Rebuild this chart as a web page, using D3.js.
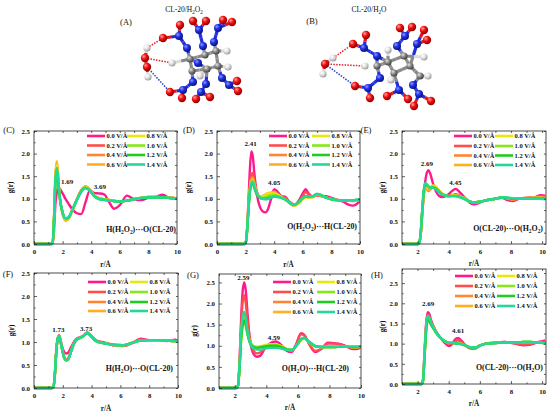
<!DOCTYPE html>
<html>
<head>
<meta charset="utf-8">
<script src="https://cdn.jsdelivr.net/npm/d3@7"></script>
<style>
  body { margin: 0; background: #fff; }
  text { font-family: "Liberation Serif", "Times New Roman", serif; fill: #111; }
</style>
</head>
<body>
<svg id="fig" width="550" height="416"></svg>
<script>
// ---- series labels / colours ----
const fieldLabels = ["0.0 V/Å", "0.2 V/Å", "0.4 V/Å", "0.6 V/Å", "0.8 V/Å", "1.0 V/Å", "1.2 V/Å", "1.4 V/Å"];
const fieldColors = ["#ff1a8c", "#ff4d4d", "#ff8533", "#ffb020", "#e8e810", "#88e61a", "#1fcc1f", "#22d99a"];

// ---- (C) H(H2O2)...O(CL-20) ----
const rC = [0, 1.2, 1.3, 1.4, 1.5, 1.6, 1.7, 1.8, 2.0, 2.2, 2.4, 2.7, 3.0, 3.3, 3.6, 3.9, 4.2, 4.5, 4.9, 5.3, 5.6, 6.0, 6.5, 7.0, 7.5, 8.0, 8.5, 9.0, 9.5, 10];
const gC = [
  [0, 0, 0.02, 0.3, 0.9, 1.15, 1.25, 1.22, 1.12, 1.0, 0.9, 0.76, 0.68, 0.66, 0.92, 1.18, 1.13, 1.12, 1.1, 0.9, 0.78, 0.86, 1.07, 0.99, 0.97, 1.02, 1.04, 1.09, 1.01, 1.0],
  [0, 0, 0.02, 0.55, 1.45, 1.72, 1.4, 1.02, 0.68, 0.55, 0.58, 0.77, 0.99, 1.18, 1.26, 1.19, 1.07, 1.01, 0.99, 0.97, 0.95, 0.94, 0.96, 0.99, 1.02, 1.04, 1.04, 1.03, 1.03, 1.0],
  [0, 0, 0.02, 0.58, 1.5, 1.78, 1.43, 1.04, 0.67, 0.52, 0.55, 0.76, 0.99, 1.19, 1.28, 1.21, 1.08, 1.02, 0.99, 0.97, 0.95, 0.94, 0.96, 0.99, 1.02, 1.04, 1.04, 1.03, 1.03, 1.0],
  [0, 0, 0.02, 0.6, 1.55, 1.83, 1.45, 1.05, 0.67, 0.52, 0.55, 0.75, 0.98, 1.18, 1.27, 1.2, 1.08, 1.02, 0.99, 0.97, 0.95, 0.94, 0.96, 0.99, 1.02, 1.04, 1.04, 1.03, 1.03, 1.0],
  [0, 0, 0.02, 0.57, 1.48, 1.75, 1.42, 1.04, 0.68, 0.54, 0.56, 0.76, 0.98, 1.17, 1.26, 1.2, 1.07, 1.01, 0.99, 0.97, 0.95, 0.94, 0.96, 0.99, 1.02, 1.03, 1.04, 1.03, 1.02, 1.0],
  [0, 0, 0.02, 0.55, 1.42, 1.68, 1.38, 1.03, 0.69, 0.55, 0.57, 0.76, 0.98, 1.17, 1.25, 1.19, 1.07, 1.01, 0.98, 0.96, 0.95, 0.94, 0.96, 0.99, 1.02, 1.03, 1.04, 1.03, 1.02, 1.0],
  [0, 0, 0.02, 0.52, 1.38, 1.62, 1.35, 1.03, 0.7, 0.57, 0.58, 0.77, 0.98, 1.16, 1.24, 1.18, 1.06, 1.0, 0.98, 0.96, 0.95, 0.94, 0.96, 0.99, 1.02, 1.03, 1.03, 1.03, 1.02, 1.0],
  [0, 0, 0.02, 0.55, 1.42, 1.68, 1.38, 1.04, 0.71, 0.57, 0.59, 0.77, 0.97, 1.15, 1.24, 1.18, 1.06, 1.0, 0.98, 0.96, 0.95, 0.94, 0.96, 0.99, 1.02, 1.03, 1.03, 1.03, 1.02, 1.0]
];
const notesC = [["1.69", 2.31, 1.39], ["3.69", 4.6, 1.28]];

// ---- (D) O(H2O2)...H(CL-20) ----
const rD = [0, 1.9, 2.0, 2.1, 2.2, 2.3, 2.4, 2.5, 2.6, 2.8, 3.0, 3.2, 3.4, 3.6, 3.8, 4.0, 4.2, 4.5, 4.8, 5.1, 5.4, 5.7, 6.0, 6.2, 6.4, 6.7, 7.0, 7.3, 7.6, 8.0, 8.4, 8.8, 9.2, 9.5, 9.8, 10];
const gD = [
  [0, 0, 0.02, 0.3, 0.95, 1.65, 2.05, 1.95, 1.6, 1.08, 0.82, 0.72, 0.7, 0.8, 1.02, 1.21, 1.17, 1.06, 1.04, 0.9, 0.85, 0.95, 1.12, 1.21, 1.12, 1.04, 1.08, 1.06, 1.06, 1.02, 0.98, 0.94, 0.87, 0.85, 0.89, 0.96],
  [0, 0, 0.02, 0.3, 0.85, 1.3, 1.52, 1.57, 1.42, 1.15, 1.03, 1.0, 1.0, 1.03, 1.08, 1.13, 1.1, 1.04, 1.0, 0.93, 0.87, 0.92, 1.06, 1.15, 1.1, 1.04, 1.08, 1.06, 1.04, 1.0, 0.97, 0.97, 0.96, 0.95, 0.96, 0.97],
  [0, 0, 0.02, 0.3, 0.82, 1.25, 1.45, 1.48, 1.36, 1.13, 1.05, 1.05, 1.08, 1.1, 1.12, 1.14, 1.1, 1.04, 0.99, 0.92, 0.87, 0.91, 1.02, 1.06, 1.04, 1.04, 1.09, 1.06, 1.03, 1.0, 0.97, 0.97, 0.97, 0.96, 0.96, 0.97],
  [0, 0, 0.02, 0.28, 0.8, 1.22, 1.42, 1.45, 1.34, 1.12, 1.05, 1.06, 1.1, 1.13, 1.14, 1.15, 1.11, 1.04, 0.98, 0.9, 0.85, 0.9, 1.0, 1.04, 1.03, 1.04, 1.1, 1.07, 1.03, 0.99, 0.97, 0.96, 0.96, 0.96, 0.97, 0.98],
  [0, 0, 0.02, 0.28, 0.78, 1.18, 1.36, 1.38, 1.28, 1.1, 1.04, 1.05, 1.08, 1.12, 1.12, 1.12, 1.1, 1.04, 0.98, 0.9, 0.85, 0.9, 1.0, 1.04, 1.03, 1.04, 1.1, 1.07, 1.03, 0.99, 0.97, 0.96, 0.96, 0.97, 0.97, 0.98],
  [0, 0, 0.02, 0.27, 0.76, 1.15, 1.33, 1.36, 1.26, 1.09, 1.03, 1.02, 1.04, 1.06, 1.08, 1.09, 1.07, 1.03, 0.98, 0.9, 0.86, 0.91, 1.01, 1.05, 1.04, 1.05, 1.1, 1.07, 1.03, 0.99, 0.97, 0.96, 0.96, 0.97, 0.97, 0.98],
  [0, 0, 0.02, 0.27, 0.75, 1.14, 1.32, 1.35, 1.25, 1.08, 1.02, 1.0, 1.0, 1.02, 1.03, 1.05, 1.04, 1.02, 0.98, 0.91, 0.87, 0.92, 1.02, 1.06, 1.05, 1.06, 1.11, 1.08, 1.03, 0.99, 0.97, 0.96, 0.97, 0.97, 0.98, 0.98],
  [0, 0, 0.02, 0.28, 0.77, 1.17, 1.35, 1.38, 1.28, 1.1, 1.03, 1.0, 0.99, 1.0, 1.03, 1.06, 1.05, 1.02, 0.98, 0.91, 0.87, 0.92, 1.02, 1.06, 1.05, 1.06, 1.11, 1.08, 1.03, 0.99, 0.97, 0.96, 0.97, 0.97, 0.98, 0.99]
];
const notesD = [["2.41", 2.36, 2.23], ["4.05", 4.0, 1.36]];

// ---- (E) O(CL-20)...O(H2O2) ----
const rE = [1, 2.0, 2.1, 2.2, 2.3, 2.4, 2.5, 2.6, 2.7, 2.8, 3.0, 3.2, 3.4, 3.6, 3.8, 4.0, 4.2, 4.45, 4.7, 5.0, 5.3, 5.6, 5.9, 6.2, 6.6, 7.0, 7.4, 7.8, 8.1, 8.5, 9.0, 9.5, 9.9, 10.2];
const gE = [
  [0, 0, 0.02, 0.2, 0.65, 1.1, 1.4, 1.58, 1.63, 1.57, 1.33, 1.15, 1.06, 1.04, 1.06, 1.1, 1.17, 1.22, 1.15, 1.04, 0.93, 0.88, 0.9, 0.95, 0.98, 1.0, 1.02, 0.97, 0.95, 1.0, 1.02, 1.03, 1.08, 1.07],
  [0, 0, 0.02, 0.22, 0.7, 1.12, 1.3, 1.28, 1.22, 1.22, 1.27, 1.24, 1.16, 1.1, 1.07, 1.06, 1.08, 1.1, 1.07, 1.02, 0.95, 0.91, 0.93, 0.95, 0.98, 1.0, 1.03, 1.0, 0.98, 1.0, 1.02, 1.03, 1.05, 1.04],
  [0, 0, 0.02, 0.22, 0.7, 1.1, 1.25, 1.2, 1.17, 1.2, 1.28, 1.25, 1.17, 1.1, 1.07, 1.06, 1.07, 1.08, 1.06, 1.02, 0.95, 0.92, 0.93, 0.95, 0.98, 1.0, 1.03, 1.01, 0.99, 1.0, 1.02, 1.03, 1.04, 1.03],
  [0, 0, 0.02, 0.22, 0.7, 1.1, 1.27, 1.22, 1.2, 1.23, 1.3, 1.26, 1.18, 1.11, 1.08, 1.06, 1.07, 1.08, 1.06, 1.02, 0.95, 0.92, 0.93, 0.95, 0.98, 1.0, 1.03, 1.01, 0.99, 1.0, 1.02, 1.02, 1.03, 1.02],
  [0, 0, 0.02, 0.23, 0.72, 1.14, 1.3, 1.28, 1.25, 1.25, 1.28, 1.25, 1.17, 1.1, 1.07, 1.06, 1.07, 1.07, 1.05, 1.01, 0.95, 0.92, 0.93, 0.95, 0.98, 1.0, 1.03, 1.02, 1.0, 1.0, 1.01, 1.02, 1.02, 1.01],
  [0, 0, 0.02, 0.23, 0.72, 1.15, 1.3, 1.3, 1.27, 1.25, 1.26, 1.23, 1.16, 1.1, 1.07, 1.06, 1.07, 1.07, 1.05, 1.01, 0.95, 0.92, 0.93, 0.95, 0.98, 1.0, 1.03, 1.02, 1.0, 1.0, 1.01, 1.02, 1.02, 1.01],
  [0, 0, 0.02, 0.24, 0.74, 1.18, 1.32, 1.3, 1.27, 1.25, 1.25, 1.22, 1.15, 1.09, 1.07, 1.06, 1.06, 1.06, 1.04, 1.0, 0.95, 0.92, 0.93, 0.95, 0.98, 1.0, 1.03, 1.02, 1.0, 1.0, 1.01, 1.01, 1.01, 1.0],
  [0, 0, 0.02, 0.25, 0.76, 1.2, 1.35, 1.32, 1.28, 1.25, 1.24, 1.2, 1.14, 1.09, 1.07, 1.06, 1.06, 1.06, 1.04, 1.0, 0.95, 0.92, 0.93, 0.95, 0.98, 1.0, 1.03, 1.03, 1.01, 1.0, 1.0, 1.0, 1.0, 0.99]
];
const notesE = [["2.69", 2.6, 1.78], ["4.45", 4.43, 1.36]];

// ---- (F) H(H2O)...O(CL-20) ----
const rF = [0, 1.25, 1.35, 1.45, 1.55, 1.65, 1.75, 1.85, 2.0, 2.1, 2.25, 2.4, 2.6, 2.8, 3.0, 3.2, 3.4, 3.7, 4.0, 4.3, 4.7, 5.1, 5.6, 6.2, 6.8, 7.4, 8.0, 8.6, 9.2, 9.8, 10];
const gF = [
  [0, 0, 0.02, 0.3, 0.8, 1.08, 1.14, 1.03, 0.85, 0.78, 0.75, 0.78, 0.9, 1.02, 1.08, 1.1, 1.13, 1.2, 1.13, 1.04, 1.0, 0.97, 0.92, 0.91, 0.97, 1.07, 1.04, 1.04, 1.02, 1.05, 1.02],
  [0, 0, 0.02, 0.3, 0.8, 1.08, 1.14, 1.01, 0.8, 0.68, 0.62, 0.66, 0.84, 0.99, 1.07, 1.1, 1.13, 1.21, 1.13, 1.04, 0.99, 0.97, 0.93, 0.92, 0.98, 1.05, 1.04, 1.04, 1.03, 1.03, 1.01],
  [0, 0, 0.02, 0.3, 0.8, 1.08, 1.13, 1.0, 0.78, 0.66, 0.6, 0.64, 0.82, 0.98, 1.06, 1.09, 1.12, 1.2, 1.12, 1.03, 0.98, 0.96, 0.93, 0.93, 0.98, 1.04, 1.04, 1.04, 1.03, 1.02, 1.0],
  [0, 0, 0.02, 0.3, 0.8, 1.07, 1.13, 1.0, 0.78, 0.66, 0.61, 0.65, 0.82, 0.98, 1.06, 1.09, 1.12, 1.2, 1.12, 1.02, 0.98, 0.96, 0.93, 0.93, 0.98, 1.03, 1.04, 1.04, 1.03, 1.02, 1.0],
  [0, 0, 0.02, 0.3, 0.8, 1.08, 1.13, 1.0, 0.77, 0.65, 0.6, 0.64, 0.82, 0.98, 1.06, 1.09, 1.12, 1.19, 1.11, 1.02, 0.98, 0.96, 0.93, 0.93, 0.98, 1.03, 1.04, 1.04, 1.03, 1.02, 1.0],
  [0, 0, 0.02, 0.3, 0.8, 1.08, 1.13, 1.0, 0.77, 0.65, 0.6, 0.64, 0.82, 0.98, 1.06, 1.09, 1.12, 1.19, 1.11, 1.02, 0.98, 0.96, 0.94, 0.93, 0.98, 1.03, 1.04, 1.04, 1.03, 1.02, 1.0],
  [0, 0, 0.02, 0.3, 0.8, 1.08, 1.13, 1.0, 0.77, 0.65, 0.6, 0.64, 0.82, 0.98, 1.06, 1.09, 1.12, 1.19, 1.11, 1.02, 0.98, 0.96, 0.94, 0.93, 0.98, 1.03, 1.04, 1.04, 1.03, 1.02, 1.0],
  [0, 0, 0.02, 0.3, 0.8, 1.08, 1.13, 1.0, 0.78, 0.66, 0.6, 0.64, 0.82, 0.98, 1.06, 1.09, 1.12, 1.2, 1.12, 1.02, 0.98, 0.96, 0.93, 0.93, 0.98, 1.03, 1.04, 1.04, 1.03, 1.02, 1.0]
];
const notesF = [["1.73", 1.69, 1.26], ["3.73", 3.62, 1.3]];

// ---- (G) O(H2O)...H(CL-20) ----
const rG = [1, 2.1, 2.2, 2.3, 2.4, 2.5, 2.6, 2.7, 2.8, 2.9, 3.0, 3.2, 3.4, 3.6, 3.9, 4.2, 4.6, 5.0, 5.3, 5.6, 5.9, 6.2, 6.4, 6.7, 7.1, 7.5, 7.9, 8.3, 8.7, 9.1, 9.5, 9.8, 10];
const gG = [
  [0, 0, 0.05, 0.6, 1.6, 2.3, 2.5, 2.3, 1.8, 1.35, 1.05, 0.8, 0.74, 0.76, 0.93, 1.05, 1.1, 1.0, 0.88, 0.85, 1.05, 1.3, 1.26, 1.05, 0.85, 0.93, 1.07, 1.06, 1.04, 0.98, 0.92, 0.93, 0.98],
  [0, 0, 0.05, 0.55, 1.45, 2.05, 2.2, 2.0, 1.62, 1.3, 1.08, 0.88, 0.82, 0.84, 0.94, 1.0, 1.02, 0.96, 0.9, 0.87, 1.02, 1.27, 1.25, 1.05, 0.88, 0.93, 1.05, 1.05, 1.03, 0.98, 0.95, 0.95, 0.97],
  [0, 0, 0.05, 0.5, 1.25, 1.62, 1.72, 1.6, 1.35, 1.18, 1.07, 0.98, 0.96, 0.97, 1.0, 1.02, 1.02, 0.98, 0.92, 0.9, 1.0, 1.15, 1.18, 1.08, 0.98, 0.97, 0.98, 0.98, 0.98, 0.98, 0.97, 0.97, 0.98],
  [0, 0, 0.05, 0.48, 1.22, 1.58, 1.68, 1.56, 1.33, 1.17, 1.07, 0.99, 0.97, 0.98, 1.0, 1.03, 1.03, 0.98, 0.92, 0.9, 1.0, 1.14, 1.18, 1.09, 0.99, 0.97, 0.97, 0.97, 0.98, 0.98, 0.97, 0.97, 0.98],
  [0, 0, 0.05, 0.46, 1.15, 1.5, 1.6, 1.5, 1.3, 1.15, 1.06, 0.99, 0.98, 0.99, 1.01, 1.03, 1.03, 0.98, 0.92, 0.9, 1.0, 1.14, 1.18, 1.09, 0.99, 0.97, 0.97, 0.97, 0.98, 0.98, 0.97, 0.97, 0.98],
  [0, 0, 0.05, 0.45, 1.12, 1.45, 1.55, 1.46, 1.28, 1.14, 1.05, 0.98, 0.96, 0.97, 0.99, 1.01, 1.01, 0.97, 0.92, 0.9, 1.0, 1.14, 1.18, 1.09, 0.99, 0.97, 0.97, 0.97, 0.98, 0.98, 0.97, 0.97, 0.98],
  [0, 0, 0.05, 0.46, 1.15, 1.5, 1.6, 1.5, 1.3, 1.14, 1.04, 0.97, 0.95, 0.96, 0.98, 1.0, 1.0, 0.96, 0.91, 0.9, 1.0, 1.15, 1.19, 1.1, 0.99, 0.97, 0.97, 0.97, 0.98, 0.98, 0.97, 0.97, 0.98],
  [0, 0, 0.05, 0.5, 1.3, 1.7, 1.8, 1.65, 1.35, 1.15, 1.03, 0.94, 0.91, 0.91, 0.93, 0.95, 0.95, 0.93, 0.9, 0.9, 1.0, 1.15, 1.19, 1.1, 1.0, 0.97, 0.97, 0.97, 0.98, 0.98, 0.98, 0.98, 0.99]
];
const notesG = [["2.59", 2.54, 2.62], ["4.59", 4.48, 1.19]];

// ---- (H) O(CL-20)...O(H2O) ----
const rH = [1, 2.25, 2.35, 2.45, 2.55, 2.65, 2.75, 2.85, 3.0, 3.2, 3.4, 3.6, 3.8, 4.0, 4.2, 4.4, 4.6, 4.8, 5.1, 5.4, 5.7, 6.0, 6.4, 6.8, 7.2, 7.6, 8.0, 8.4, 8.8, 9.2, 9.6, 10.0, 10.2];
const gH = [
  [0, 0, 0.1, 0.8, 1.5, 1.78, 1.74, 1.6, 1.45, 1.3, 1.18, 1.08, 1.0, 0.94, 0.98, 1.1, 1.14, 1.08, 0.95, 0.88, 0.88, 0.95, 1.0, 1.02, 1.03, 1.04, 1.02, 0.99, 0.96, 0.97, 1.02, 1.06, 1.08],
  [0, 0, 0.1, 0.78, 1.45, 1.72, 1.68, 1.56, 1.44, 1.29, 1.18, 1.1, 1.04, 1.0, 1.0, 1.05, 1.08, 1.04, 0.95, 0.9, 0.89, 0.95, 1.0, 1.02, 1.03, 1.04, 1.02, 1.0, 0.98, 0.99, 1.02, 1.04, 1.05],
  [0, 0, 0.09, 0.75, 1.4, 1.68, 1.64, 1.54, 1.42, 1.28, 1.17, 1.1, 1.05, 1.02, 1.02, 1.02, 1.02, 1.0, 0.95, 0.91, 0.9, 0.95, 1.0, 1.01, 1.02, 1.03, 1.03, 1.03, 1.03, 1.03, 1.03, 1.02, 1.01],
  [0, 0, 0.08, 0.7, 1.32, 1.6, 1.57, 1.5, 1.4, 1.27, 1.17, 1.1, 1.05, 1.02, 1.02, 1.01, 1.01, 1.0, 0.95, 0.91, 0.9, 0.95, 1.0, 1.01, 1.02, 1.03, 1.03, 1.03, 1.04, 1.04, 1.03, 1.02, 1.01],
  [0, 0, 0.08, 0.72, 1.36, 1.65, 1.6, 1.52, 1.41, 1.28, 1.17, 1.1, 1.05, 1.02, 1.02, 1.01, 1.0, 0.99, 0.95, 0.91, 0.9, 0.95, 1.0, 1.01, 1.02, 1.03, 1.03, 1.03, 1.04, 1.04, 1.03, 1.02, 1.01],
  [0, 0, 0.08, 0.7, 1.34, 1.62, 1.58, 1.5, 1.4, 1.27, 1.17, 1.1, 1.05, 1.02, 1.02, 1.01, 1.0, 0.99, 0.95, 0.91, 0.9, 0.95, 1.0, 1.01, 1.02, 1.03, 1.03, 1.03, 1.04, 1.04, 1.03, 1.02, 1.0],
  [0, 0, 0.08, 0.68, 1.3, 1.58, 1.56, 1.48, 1.39, 1.27, 1.17, 1.1, 1.05, 1.02, 1.02, 1.01, 1.0, 0.99, 0.95, 0.91, 0.9, 0.95, 1.0, 1.01, 1.02, 1.03, 1.03, 1.03, 1.04, 1.04, 1.03, 1.02, 1.0],
  [0, 0, 0.09, 0.74, 1.4, 1.7, 1.65, 1.54, 1.42, 1.28, 1.17, 1.1, 1.05, 1.02, 1.02, 1.01, 1.0, 0.99, 0.95, 0.91, 0.9, 0.95, 1.0, 1.01, 1.02, 1.03, 1.03, 1.03, 1.04, 1.04, 1.03, 1.02, 1.0]
];
const notesH = [["2.69", 2.68, 2.0], ["4.61", 4.61, 1.32]];

// ---- molecule sketches (A) and (B): [element, x, y] ----
const atomsA = [
  ["O",163,38],["N",179,36],["O",180,25],["N",187,48],["N",199,30],["O",193,21],["O",206,21],["N",203,46],
  ["N",218,28],["O",223,20],["O",232,22],["N",214,42],["C",190,59],["C",205,55],["C",216,51],["C",218,66],
  ["C",192,71],["C",207,69],["N",198,63],["N",193,82],["N",206,84],["N",222,78],["H",172,63],["H",227,51],
  ["H",228,67],["H",200,76],["N",183,90],["O",170,92],["O",182,98],["N",201,92],["O",196,99],["O",210,97],
  ["N",229,85],["O",237,81],["O",238,91],["H",147,48],["O",145,58],["O",147,67],["H",148,77]
];
const bondsA = [[0,1],[1,2],[1,3],[4,5],[4,6],[4,7],[8,9],[8,10],[8,11],[3,12],[7,13],[11,14],[12,13],[13,14],
  [14,15],[15,17],[17,16],[16,12],[12,18],[18,17],[16,19],[17,20],[15,21],[12,22],[14,23],[15,24],[17,25],
  [19,26],[26,27],[26,28],[20,29],[29,30],[29,31],[21,32],[32,33],[32,34],[35,36],[36,37],[37,38]];
const hbondsA = [[35,0,"#e82020"],[36,22,"#e82020"],[37,27,"#2040c8"]];

const atomsB = [
  ["O",325,64],["H",333,58],["H",323,74],["O",353,44],["N",364,48],["O",366,35],["N",377,56],["H",365,66],
  ["C",377,66],["C",388,62],["H",388,50],["C",394,73],["C",410,66],["C",404,56],["C",420,76],["N",380,78],
  ["N",397,46],["N",413,85],["H",391,80],["H",428,76],["O",355,86],["N",368,88],["O",370,98],["N",399,90],
  ["O",387,96],["O",408,99],["N",419,94],["O",431,101],["O",414,106],["N",405,36],["O",400,28],["O",412,27],
  ["N",417,44],["O",424,30],["O",427,40],["H",424,57]
];
const bondsB = [[0,1],[0,2],[3,4],[4,5],[4,6],[6,8],[6,9],[8,9],[9,10],[9,11],[8,15],[11,12],[12,13],[13,9],
  [12,14],[11,18],[14,19],[14,17],[15,21],[21,20],[21,22],[11,23],[23,24],[23,25],[17,26],[26,27],[26,28],
  [13,16],[16,29],[29,30],[29,31],[12,32],[32,33],[32,34],[13,35]];
const hbondsB = [[1,3,"#e82020"],[0,7,"#e82020"],[0,20,"#2040c8"]];

// ---- panel layout ----
const panels = [
  { tag: "(C)", tagXY: [9, 133], r: rC, g: gC, notes: notesC, pair: "H(H_2O_2)\u00b7\u00b7\u00b7O(CL-20)",
    box: [34, 131, 177, 244], xDom: [0, 10], yDom: [0, 2.5], xTicks: [0, 2, 4, 6, 8, 10], xMinor: [1, 3, 5, 7, 9],
    legX: [53, 93], legY: [5, 14.5, 24, 33.5], pairOff: [1, 12.5], gOff: 21, xlabOff: 23 },
  { tag: "(D)", tagXY: [189, 133], r: rD, g: gD, notes: notesD, pair: "O(H_2O_2)\u00b7\u00b7\u00b7H(CL-20)",
    box: [217, 131, 360, 244], xDom: [0, 10], yDom: [0, 2.5], xTicks: [0, 2, 4, 6, 8, 10], xMinor: [1, 3, 5, 7, 9],
    legX: [52, 95], legY: [5, 14.5, 24, 33.5], pairOff: [3, 15], gOff: 26, xlabOff: 23 },
  { tag: "(E)", tagXY: [366, 133], r: rE, g: gE, notes: notesE, pair: "O(CL-20)\u00b7\u00b7\u00b7O(H_2O_2)",
    box: [402, 131, 546, 244], xDom: [1, 10.25], yDom: [0, 2.5], xTicks: [2, 4, 6, 8, 10], xMinor: [1, 3, 5, 7, 9],
    legX: [52, 93], legY: [5, 15, 24.5, 34], pairOff: [3, 13], gOff: 17, xlabOff: 21.5 },
  { tag: "(F)", tagXY: [8, 277], r: rF, g: gF, notes: notesF, pair: "H(H_2O)\u00b7\u00b7\u00b7O(CL-20)",
    box: [34, 273, 178, 388], xDom: [0, 10], yDom: [0, 2.5], xTicks: [0, 2, 4, 6, 8, 10], xMinor: [1, 3, 5, 7, 9],
    legX: [54, 96], legY: [9, 19, 29, 38], pairOff: [5, 17], gOff: 20, xlabOff: 22.5 },
  { tag: "(G)", tagXY: [193, 278], r: rG, g: gG, notes: notesG, pair: "O(H_2O)\u00b7\u00b7\u00b7H(CL-20)",
    box: [219, 274, 361, 388], xDom: [1, 10], yDom: [0, 2.7], xTicks: [2, 4, 6, 8, 10], xMinor: [1, 3, 5, 7, 9],
    legX: [54, 98], legY: [8, 18, 28, 38], pairOff: [12, 17], gOff: 22, xlabOff: 21.5 },
  { tag: "(H)", tagXY: [377, 278], r: rH, g: gH, notes: notesH, pair: "O(CL-20)\u00b7\u00b7\u00b7O(H_2O)",
    box: [402, 269, 546, 384], xDom: [1, 10.25], yDom: [0, 2.85], xTicks: [2, 4, 6, 8, 10], xMinor: [1, 3, 5, 7, 9],
    legX: [53, 95], legY: [7, 17, 27, 37], pairOff: [3, 14], gOff: 17, xlabOff: 21.5 }
];

const svg = d3.select("#fig");
const defs = svg.append("defs");

// writes "X_2" style strings with real subscripts
function richText(sel, str, fs) {
  const parts = str.split(/(_\d)/).filter(p => p.length);
  let down = false;
  parts.forEach(p => {
    if (p[0] === "_") {
      sel.append("tspan").attr("dy", fs * 0.28).attr("font-size", fs * 0.68).text(p.slice(1));
      down = true;
    } else {
      sel.append("tspan").attr("dy", down ? -fs * 0.28 : 0).text(p);
      down = false;
    }
  });
}

// ---------- molecules ----------
const elemStyle = {
  O: { r: 4.2, c: ["#ffa0a0", "#f01010", "#8a0000"] },
  N: { r: 4.0, c: ["#8c98ff", "#1f2fe6", "#0c1470"] },
  C: { r: 3.6, c: ["#e6e6e6", "#8c8c8c", "#3f3f3f"] },
  H: { r: 3.6, c: ["#ffffff", "#e4e4e4", "#9a9a9a"] }
};
const bondColor = { O: "#e81414", N: "#2030e0", C: "#8a8a8a", H: "#dcdcdc" };
Object.entries(elemStyle).forEach(([k, s]) => {
  const gr = defs.append("radialGradient").attr("id", "at" + k).attr("cx", "35%").attr("cy", "32%").attr("r", "70%");
  gr.append("stop").attr("offset", "0%").attr("stop-color", s.c[0]);
  gr.append("stop").attr("offset", "45%").attr("stop-color", s.c[1]);
  gr.append("stop").attr("offset", "100%").attr("stop-color", s.c[2]);
});

function drawMolecule(atoms, bonds, hbonds) {
  const g = svg.append("g");
  bonds.forEach(([i, j]) => {
    const a = atoms[i], b = atoms[j];
    const mx = (a[1] + b[1]) / 2, my = (a[2] + b[2]) / 2;
    g.append("line").attr("x1", a[1]).attr("y1", a[2]).attr("x2", mx).attr("y2", my)
      .attr("stroke", bondColor[a[0]]).attr("stroke-width", 3.2);
    g.append("line").attr("x1", mx).attr("y1", my).attr("x2", b[1]).attr("y2", b[2])
      .attr("stroke", bondColor[b[0]]).attr("stroke-width", 3.2);
  });
  hbonds.forEach(([i, j, col]) => {
    g.append("line").attr("x1", atoms[i][1]).attr("y1", atoms[i][2]).attr("x2", atoms[j][1]).attr("y2", atoms[j][2])
      .attr("stroke", col).attr("stroke-width", 1.5).attr("stroke-dasharray", "1.5,1.3");
  });
  g.selectAll("circle").data(atoms).join("circle")
    .attr("cx", d => d[1]).attr("cy", d => d[2])
    .attr("r", d => elemStyle[d[0]].r)
    .attr("fill", d => `url(#at${d[0]})`);
}
drawMolecule(atomsA, bondsA, hbondsA);
drawMolecule(atomsB, bondsB, hbondsB);

svg.append("text").attr("x", 126).attr("y", 25).attr("text-anchor", "middle").attr("font-size", 8.5).text("(A)");
svg.append("text").attr("x", 312).attr("y", 24).attr("text-anchor", "middle").attr("font-size", 8.5).text("(B)");
richText(svg.append("text").attr("x", 184).attr("y", 12).attr("text-anchor", "middle").attr("font-size", 7.5), "CL-20/H_2O_2", 7.5);
richText(svg.append("text").attr("x", 369).attr("y", 12).attr("text-anchor", "middle").attr("font-size", 7.5), "CL-20/H_2O", 7.5);

// ---------- RDF panels ----------
panels.forEach((p, pi) => {
  const [L, T, R, B] = p.box;
  const x = d3.scaleLinear().domain(p.xDom).range([L, R]);
  const y = d3.scaleLinear().domain(p.yDom).range([B, T]);
  const g = svg.append("g");

  defs.append("clipPath").attr("id", "clip" + pi)
    .append("rect").attr("x", L).attr("y", T - 2).attr("width", R - L).attr("height", B - T + 4);

  const line = d3.line().x(d => x(d[0])).y(d => y(d[1])).curve(d3.curveMonotoneX);
  const curves = g.append("g").attr("clip-path", `url(#clip${pi})`);
  p.g.forEach((vals, k) => {
    curves.append("path")
      .datum(p.r.map((rv, i) => [rv, vals[i]]))
      .attr("fill", "none").attr("stroke", fieldColors[k]).attr("stroke-width", 2.4)
      .attr("stroke-linejoin", "round").attr("d", line);
  });

  // axes, Origin style: ticks inside on all four sides
  const yTicks = [0, 0.5, 1, 1.5, 2, 2.5];
  const yMinor = [0.25, 0.75, 1.25, 1.75, 2.25].concat(p.yDom[1] > 2.7 ? [2.75] : []);
  const axisStyle = sel => {
    sel.select(".domain").remove();
    sel.selectAll(".tick line").attr("stroke", "#222").attr("stroke-width", 0.7);
    sel.selectAll(".tick text").attr("font-size", 6.8).attr("font-weight", "bold")
      .attr("font-family", "'Liberation Serif', serif").attr("fill", "#111");
  };
  g.append("g").attr("transform", `translate(0,${B})`)
    .call(d3.axisBottom(x).tickValues(p.xTicks).tickSize(-3).tickPadding(5).tickFormat(d3.format("d"))).call(axisStyle);
  g.append("g").attr("transform", `translate(0,${B})`)
    .call(d3.axisBottom(x).tickValues(p.xMinor).tickSize(-1.6).tickFormat("")).call(axisStyle);
  g.append("g").attr("transform", `translate(0,${T})`)
    .call(d3.axisTop(x).tickValues(p.xTicks.concat(p.xMinor)).tickSize(-2).tickFormat("")).call(axisStyle);
  g.append("g").attr("transform", `translate(${L},0)`)
    .call(d3.axisLeft(y).tickValues(yTicks).tickSize(-3).tickPadding(4).tickFormat(d3.format(".1f"))).call(axisStyle);
  g.append("g").attr("transform", `translate(${L},0)`)
    .call(d3.axisLeft(y).tickValues(yMinor).tickSize(-1.6).tickFormat("")).call(axisStyle);
  g.append("g").attr("transform", `translate(${R},0)`)
    .call(d3.axisRight(y).tickValues(yTicks.concat(yMinor)).tickSize(-2).tickFormat("")).call(axisStyle);

  g.append("rect").attr("x", L).attr("y", T).attr("width", R - L).attr("height", B - T)
    .attr("fill", "none").attr("stroke", "#222").attr("stroke-width", 0.8);

  // axis titles
  g.append("text").attr("x", (L + R) / 2).attr("y", B + p.xlabOff).attr("text-anchor", "middle")
    .attr("font-size", 7.2).attr("font-weight", "bold").text("r/Å");
  g.append("text").attr("transform", `translate(${L - p.gOff},${(T + B) / 2}) rotate(-90)`)
    .attr("text-anchor", "middle").attr("font-size", 7.2).attr("font-weight", "bold").text("g(r)");

  // panel tag
  g.append("text").attr("x", p.tagXY[0]).attr("y", p.tagXY[1]).attr("text-anchor", "middle")
    .attr("font-size", 8.5).text(p.tag);

  // peak annotations
  p.notes.forEach(([t, rv, gv]) => {
    g.append("text").attr("x", x(rv)).attr("y", y(gv) + 2.4).attr("text-anchor", "middle")
      .attr("font-size", 7).attr("font-weight", "bold").text(t);
  });

  // atom-pair label
  richText(g.append("text").attr("x", R - p.pairOff[0]).attr("y", B - p.pairOff[1])
    .attr("text-anchor", "end").attr("font-size", 7.9).attr("font-weight", "bold"), p.pair, 7.9);

  // legend: two columns of four
  fieldLabels.forEach((lab, k) => {
    const lx = L + p.legX[Math.floor(k / 4)];
    const ly = T + p.legY[k % 4];
    g.append("line").attr("x1", lx).attr("x2", lx + 18).attr("y1", ly).attr("y2", ly)
      .attr("stroke", fieldColors[k]).attr("stroke-width", 2.6);
    g.append("text").attr("x", lx + 19.5).attr("y", ly + 2.3)
      .attr("font-size", 6.5).attr("font-weight", "bold").text(lab);
  });
});
</script>
</body>
</html>
